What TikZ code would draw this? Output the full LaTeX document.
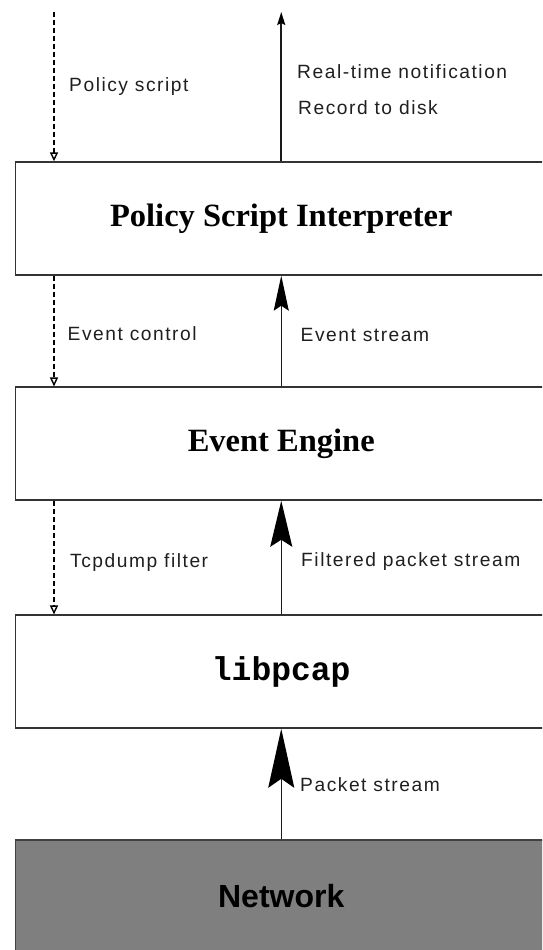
\documentclass[tikz,border=0pt]{standalone}
\usepackage{fontspec}
\setmainfont{Liberation Serif}
\newfontfamily\lablfont[LetterSpace=8]{Liberation Sans}
\newfontfamily\netwfont{Liberation Sans}
\newfontfamily\pcapfont{Liberation Mono}
\usetikzlibrary{arrows.meta}
\definecolor{netgray}{HTML}{7F7F7F}
\begin{document}
\begin{tikzpicture}[x=1pt,y=-1pt,
  layer/.style={draw=black!80, line width=1.8pt, minimum width=531.5pt,
    minimum height=112.5pt, inner sep=0pt, fill=white},
  bigtext/.style={font=\fontsize{32.5}{36}\selectfont\bfseries},
  lab/.style={anchor=base west, inner sep=0pt, text=black!88,
    font=\lablfont\fontsize{19.2}{22}\selectfont},
  ctl/.style={draw=black, line width=1.4pt, dash pattern=on 5pt off 3pt,
    -{Triangle[open,length=9pt,width=8pt,line width=1.4pt]}},
  flow/.style={draw=black!90, line width=1.4pt}
]
\useasboundingbox (0,0) rectangle (542,950);
\clip (0,0) rectangle (542,950);

% layers
\node[layer, bigtext] (psi) at (281.25,218.5) {Policy Script Interpreter};
\node[layer, bigtext] (ee) at (281.25,443.6) {Event Engine};
\node[layer, font=\pcapfont\fontsize{33}{36}\selectfont\bfseries] (pcap) at (281.25,671.6) {libpcap};
\node[layer, fill=netgray, draw=black!75, font=\netwfont\fontsize{32}{36}\selectfont\bfseries] (net) at (281.25,896.3) {Network};

% free ends
\coordinate (dx) at (54,0);
\coordinate (pstop) at (54,12);
\coordinate (rttop) at (281.25,12);

% control (dashed) arrows
\draw[ctl] (pstop) -- (pstop |- psi.north);
\draw[ctl] (psi.south -| dx) -- (ee.north -| dx);
\draw[ctl] (ee.south -| dx) -- (pcap.north -| dx);

% data flow arrows
\draw[flow, line width=1.9pt, -{Stealth[length=13pt,width=8pt,inset=2pt,black]}] (psi.north) -- (rttop);
\draw[flow, -{Stealth[length=35pt,width=15pt,inset=5pt,black]}] (ee.north) -- (psi.south);
\draw[flow, -{Stealth[length=46pt,width=22pt,inset=7pt,black]}] (pcap.north) -- (ee.south);
\draw[flow, -{Stealth[length=59pt,width=26pt,inset=9pt,black]}] (net.north) -- (pcap.south);

% labels
\node[lab] (lps) at (69,92) {Policy script};
\node[lab] (lrt) at (297,78) {Real-time notification};
\node[lab] (lrd) at (298,114) {Record to disk};
\node[lab] (lec) at (67.5,340) {Event control};
\node[lab] (les) at (300.5,341) {Event stream};
\node[lab] (ltf) at (70,567) {Tcpdump filter};
\node[lab] (lfp) at (301,566) {Filtered packet stream};
\node[lab] (lpk) at (300,791) {Packet stream};
\end{tikzpicture}
\end{document}
